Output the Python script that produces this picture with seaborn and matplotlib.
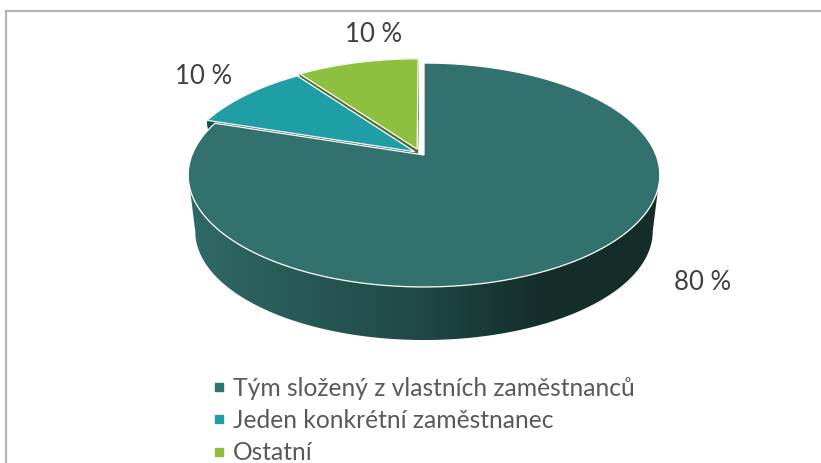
import numpy as np
import matplotlib
matplotlib.use('Agg')
import matplotlib.pyplot as plt
from matplotlib.colors import LinearSegmentedColormap
from matplotlib.lines import Line2D
from matplotlib.patches import Polygon
import seaborn as sns

# data
categories = ['Tým složený z vlastních zaměstnanců', 'Jeden konkrétní zaměstnanec', 'Ostatní']
shares = [80, 10, 10]

top_colors = ['#33716e', '#1f9ea6', '#8cc03e']
wall_colors = ['#1f4745', '#0f4e53', '#4f6b25']
# exploded offset of each slice on the disc
offsets = [(0, 0), (-0.04, 0.03), (-0.03, 0.055)]
label_pos = [(703, 283), (204, 76), (374, 34)]

sns.set_theme(style='white')
plt.rcParams['font.family'] = ['Lato', 'DejaVu Sans']

fig, ax = plt.subplots(figsize=(8.21, 4.63), dpi=100)
ax.set_position([0, 0, 1, 1])
ax.axis('off')

# perspective of the disc, in pixels
cx, cy, R, A, k = 424, 155, 232, 108.4, 0.1786
depth, shrink = 57, 0.97


def project(u, v, s=1.0, dy=0.0):
    w = 1 + k * v
    return cx + R * s * u / w, cy + dy - A * s * v / w


def outline(start, stop, off):
    t = np.radians(np.linspace(start, stop, max(int(stop - start), 2) + 1))
    u = np.r_[off[0], off[0] + np.sin(t)]
    v = np.r_[off[1], off[1] + np.cos(t)]
    return u, v


edges = np.r_[0, np.cumsum(shares)] * 360 / sum(shares)

# side wall of the big slice, gradient clipped to the front band
t = np.linspace(np.arcsin(k), np.pi - np.arcsin(k), 200)
xt, yt = project(np.cos(t), -np.sin(t))
xb, yb = project(np.cos(t), -np.sin(t), shrink, depth)
band = Polygon(np.c_[np.r_[xt, xb[::-1]], np.r_[yt, yb[::-1]]], closed=True, transform=ax.transData,
               fc='none', ec='none')
ax.add_patch(band)
cmap = LinearSegmentedColormap.from_list('wall', [(0, '#2f6a66'), (0.5, '#1f4745'), (0.74, '#152f2b'), (1, '#142d29')])
grad = np.linspace(0, 1, 256).reshape(1, -1)
img = ax.imshow(grad, cmap=cmap, extent=(188, 660, 345, 170), aspect='auto', zorder=1)
img.set_clip_path(band)

# small slices back to front, then the big one on top
for i in [2, 1, 0]:
    u, v = outline(edges[i], edges[i + 1], offsets[i])
    x, y = project(u, v)
    if i > 0:
        xl, yl = project(u, v, shrink, depth)
        n = len(x)
        for j in range(n):
            m = (j + 1) % n
            ax.fill([x[j], x[m], xl[m], xl[j]], [y[j], y[m], yl[m], yl[j]],
                    color=wall_colors[i], lw=0.3, zorder=2 + (2 - i) * 2)
    ax.fill(x, y, fc=top_colors[i], ec='white', lw=0.9, zorder=3 + (2 - i) * 2)

for pos, val in zip(label_pos, shares):
    ax.text(pos[0], pos[1], f'{val} %', ha='center', va='center', fontsize=18.5, color='#404040')

# chart frame
ax.plot([6, 6, 821], [463, 11, 11], color='#b3b3b3', lw=1.6, zorder=0, solid_joinstyle='miter')

ax.set_xlim(0, 821)
ax.set_ylim(463, 0)

handles = [Line2D([], [], ls='none', marker='s', ms=5.8, color=c) for c in top_colors]
ax.legend(handles, categories, loc='upper left', bbox_to_anchor=(212.5, 377), bbox_transform=ax.transData,
          frameon=False, fontsize=17.75, labelcolor='#595959', handlelength=0.55, handletextpad=0.28,
          labelspacing=0.37, borderpad=0, borderaxespad=0)

fig.savefig('out.png', dpi=100)
